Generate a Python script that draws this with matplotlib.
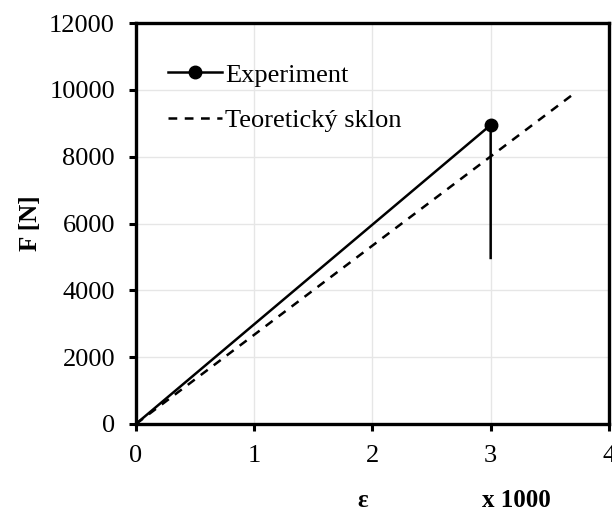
import matplotlib
matplotlib.use('Agg')
import matplotlib.pyplot as plt

# Data (strain in x 1000, force in N)
exp_eps = [0.0, 3.0, 3.0]
exp_force = [0.0, 8950.0, 4970.0]
theory_eps = [0.0, 3.69]
theory_force = [0.0, 9850.0]

x_ticks = [0, 1, 2, 3, 4]
y_ticks = [0, 2000, 4000, 6000, 8000, 10000, 12000]

plt.rcParams['font.family'] = ['Liberation Serif', 'DejaVu Serif']

fig = plt.figure(figsize=(6.12, 5.13), dpi=100)
ax = fig.add_axes([0.222, 0.1735, 0.773, 0.7815])

ax.plot(exp_eps, exp_force, color='black', linewidth=1.8, marker='o',
        markersize=9, markevery=[1], label='Experiment', zorder=3)
ax.plot(theory_eps, theory_force, color='black', linewidth=1.8,
        linestyle=(0, (3.5, 3)), label='Teoretický sklon', zorder=2)

ax.set_xlim(0, 4)
ax.set_ylim(0, 12000)
ax.set_xticks(x_ticks)
ax.set_yticks(y_ticks)
ax.tick_params(direction='out', length=5, width=2.2, labelsize=19)
ax.tick_params(axis='y', pad=10)
ax.tick_params(axis='x', pad=10)
for s in ax.spines.values():
    s.set_linewidth(2.4)
ax.grid(True, color='#e6e6e6', linewidth=1)
ax.set_axisbelow(True)

ax.set_ylabel('F [N]', fontsize=18, fontweight='bold', labelpad=5)
ax.text(1.92, -0.19, 'ε', transform=ax.get_xaxis_transform(), fontsize=18,
        fontweight='bold', ha='center', va='center')
ax.text(3.22, -0.19, 'x 1000', transform=ax.get_xaxis_transform(), fontsize=18,
        fontweight='bold', ha='center', va='center')

leg = ax.legend(loc='upper left', frameon=False, fontsize=19, handlelength=2.05,
                handletextpad=0.12, labelspacing=0.82, borderpad=0,
                borderaxespad=0, bbox_to_anchor=(0.068, 0.90))

fig.savefig('out.png', dpi=100, facecolor='white')
